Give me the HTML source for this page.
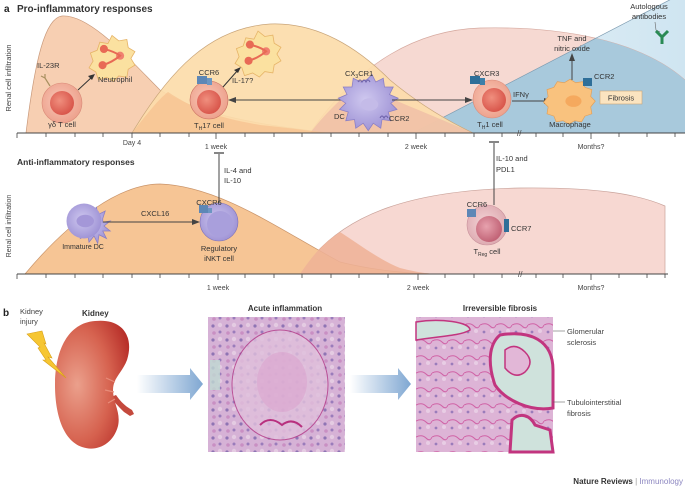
<!DOCTYPE html>
<html><head><meta charset="utf-8"><style>
html,body{margin:0;padding:0;background:#fff;}
svg{display:block;font-family:"Liberation Sans",sans-serif;}
</style></head><body>
<svg width="685" height="490" viewBox="0 0 685 490" xmlns="http://www.w3.org/2000/svg">
<defs>
<radialGradient id="cellR" cx="0.45" cy="0.45" r="0.6"><stop offset="0" stop-color="#f9c8b8"/><stop offset="1" stop-color="#ec9f8a"/></radialGradient>
<radialGradient id="nucR" cx="0.4" cy="0.4" r="0.6"><stop offset="0" stop-color="#f08f7e"/><stop offset="1" stop-color="#d9574c"/></radialGradient>
<radialGradient id="cellP" cx="0.45" cy="0.45" r="0.6"><stop offset="0" stop-color="#cfc8ef"/><stop offset="1" stop-color="#9c90d4"/></radialGradient>
<radialGradient id="cellT" cx="0.45" cy="0.45" r="0.6"><stop offset="0" stop-color="#f3d3d6"/><stop offset="1" stop-color="#dca7ae"/></radialGradient>
<radialGradient id="nucT" cx="0.4" cy="0.4" r="0.6"><stop offset="0" stop-color="#e7a2ae"/><stop offset="1" stop-color="#c26477"/></radialGradient>
<radialGradient id="kid" cx="0.3" cy="0.5" r="0.75"><stop offset="0" stop-color="#eba08c"/><stop offset="0.6" stop-color="#d6624f"/><stop offset="1" stop-color="#b8302a"/></radialGradient>
<linearGradient id="arr" x1="0" x2="1"><stop offset="0" stop-color="#fff"/><stop offset="1" stop-color="#7fa7d2"/></linearGradient>
<linearGradient id="tri" x1="0" x2="1"><stop offset="0" stop-color="#e9f3f9"/><stop offset="1" stop-color="#cfe5f1"/></linearGradient>
<pattern id="h1" width="14" height="14" patternUnits="userSpaceOnUse"><rect width="14" height="14" fill="#d6b2d6"/><circle cx="3" cy="4" r="1.6" fill="#8f74b4"/><circle cx="10" cy="10" r="1.5" fill="#9a7cbb"/><circle cx="10" cy="3" r="2.2" fill="#e4cbe2"/><circle cx="4" cy="11" r="1.8" fill="#c98fc3"/></pattern>
<pattern id="h2" width="16" height="16" patternUnits="userSpaceOnUse"><rect width="16" height="16" fill="#ddb4d6"/><path d="M0 5 Q6 2 10 6 T16 5" stroke="#d062a6" stroke-width="1" fill="none"/><circle cx="4" cy="12" r="1.4" fill="#9a7cbb"/><circle cx="12" cy="11" r="2" fill="#e8cde4"/></pattern>
</defs>

<!-- ===== panel a top ===== -->
<text x="4" y="12" font-size="10" font-weight="bold" fill="#222">a</text>
<text x="17" y="12" font-size="10" font-weight="bold" fill="#333">Pro-inflammatory responses</text>
<text transform="translate(11,78) rotate(-90)" font-size="7.5" fill="#444" text-anchor="middle">Renal cell infiltration</text>

<polygon points="413,133 685,-8 685,133" fill="url(#tri)"/>
<path d="M310,133 C360,60 420,30 480,28 C560,26 640,40 685,80 L685,133 Z" fill="#f6d9d2" stroke="#d6aaa0" stroke-width="0.7"/>
<clipPath id="ctri"><polygon points="413,133 685,-8 685,133"/></clipPath>
<path d="M310,133 C360,60 420,30 480,28 C560,26 640,40 685,80 L685,133 Z" fill="#a8c9dc" clip-path="url(#ctri)"/>
<line x1="413" y1="133" x2="685" y2="-8" stroke="#7d9bb0" stroke-width="0.7"/>
<path d="M26,133 C35,60 45,18 62,16 C90,14 130,60 160,90 C200,115 260,125 330,133 Z" fill="#f7cfb2" stroke="#c99a7c" stroke-width="0.7"/>
<path d="M132,133 C170,70 210,28 270,24 C320,22 360,50 390,80 C420,105 450,122 473,133 Z" fill="#fcdcaa" stroke="#c9a57a" stroke-width="0.7" fill-opacity="0.92"/>
<path d="M310,133 C330,108 345,95 360,84 C380,95 420,110 473,133 Z" fill="#efbea6" opacity="0.8"/>
<path d="M132,133 C150,110 160,98 168,92 C195,110 220,118 260,125 C290,128 310,131 330,133 Z" fill="#f6c08e" opacity="0.7"/>

<line x1="17" y1="133" x2="685" y2="133" stroke="#444" stroke-width="1"/>
<g stroke="#444" stroke-width="0.8">
<line x1="17" y1="133" x2="17" y2="138"/><line x1="46" y1="133" x2="46" y2="137"/><line x1="75" y1="133" x2="75" y2="137"/><line x1="103" y1="133" x2="103" y2="137"/><line x1="132" y1="133" x2="132" y2="138"/><line x1="160" y1="133" x2="160" y2="137"/><line x1="189" y1="133" x2="189" y2="137"/><line x1="216" y1="133" x2="216" y2="139"/><line x1="245" y1="133" x2="245" y2="137"/><line x1="274" y1="133" x2="274" y2="137"/><line x1="302" y1="133" x2="302" y2="137"/><line x1="331" y1="133" x2="331" y2="137"/><line x1="359" y1="133" x2="359" y2="137"/><line x1="388" y1="133" x2="388" y2="137"/><line x1="416" y1="133" x2="416" y2="139"/><line x1="445" y1="133" x2="445" y2="137"/><line x1="474" y1="133" x2="474" y2="137"/><line x1="502" y1="133" x2="502" y2="137"/><line x1="536" y1="133" x2="536" y2="137"/><line x1="563" y1="133" x2="563" y2="137"/><line x1="591" y1="133" x2="591" y2="139"/><line x1="619" y1="133" x2="619" y2="137"/><line x1="647" y1="133" x2="647" y2="137"/><line x1="675" y1="133" x2="675" y2="137"/>
</g>
<text x="517" y="136" font-size="8" fill="#444">//</text>
<g font-size="7" fill="#444" text-anchor="middle">
<text x="132" y="145">Day 4</text><text x="216" y="149">1 week</text><text x="416" y="149">2 week</text><text x="591" y="149">Months?</text></g>

<!-- gamma delta T -->
<circle cx="62" cy="103" r="20" fill="url(#cellR)" stroke="#d98a78" stroke-width="0.6"/>
<circle cx="62" cy="103" r="12" fill="url(#nucR)"/>
<path d="M50 86 L45 78 M45 78 l-4 -2 M45 78 l0 -4" stroke="#a89060" stroke-width="1.2" fill="none"/>
<text x="37" y="68" font-size="7.5" fill="#333">IL-23R</text>
<text x="62" y="127" font-size="7.5" fill="#333" text-anchor="middle">γδ T cell</text>
<line x1="78" y1="90" x2="92" y2="77" stroke="#333" stroke-width="1"/><polygon points="95,74 88,76 92,80" fill="#333"/>
<g transform="translate(112,53) scale(1.35) translate(-112,-53)">
<path d="M112,40 l5,4 6,-1 1,6 5,3 -3,5 3,5 -5,3 -1,6 -6,-1 -4,4 -5,-3 -6,2 -2,-6 -5,-3 3,-5 -2,-6 5,-2 2,-6 6,1 z" fill="#fbe1a0" stroke="#e6b468" stroke-width="0.6"/>
<circle cx="106" cy="50" r="3" fill="#e86a55"/><circle cx="118" cy="55" r="3" fill="#f08070"/><circle cx="105" cy="62" r="3" fill="#e86a55"/>
<path d="M106 50 Q114 52 118 55 Q112 60 105 62" stroke="#e86a55" stroke-width="1.5" fill="none"/>
</g>
<text x="98" y="82" font-size="7.5" fill="#333">Neutrophil</text>

<!-- TH17 -->
<circle cx="209" cy="100" r="19" fill="url(#cellR)" stroke="#c76e5e" stroke-width="0.6"/>
<circle cx="209" cy="102" r="12" fill="url(#nucR)"/>
<rect x="197" y="76" width="10" height="8" fill="#5d87b6"/><rect x="207" y="78" width="5" height="7" fill="#6c96c2"/>
<text x="209" y="75" font-size="7.5" fill="#333" text-anchor="middle">CCR6</text>
<text x="209" y="128" font-size="7.5" fill="#333" text-anchor="middle">T<tspan font-size="5" dy="2">H</tspan><tspan dy="-2">17 cell</tspan></text>
<line x1="223" y1="87" x2="238" y2="70" stroke="#333" stroke-width="1"/><polygon points="241,67 234,70 238,73" fill="#333"/>
<text x="232" y="83" font-size="7.5" fill="#333">IL-17?</text>
<g transform="translate(258,50) scale(1.35) translate(-258,-50)">
<path d="M258,36 l5,4 6,-1 1,6 5,3 -3,5 3,5 -5,3 -1,6 -6,-1 -4,4 -5,-3 -6,2 -2,-6 -5,-3 3,-5 -2,-6 5,-2 2,-6 6,1 z" fill="#fbe1a0" stroke="#e6b468" stroke-width="0.6"/>
<circle cx="252" cy="46" r="3" fill="#e86a55"/><circle cx="264" cy="51" r="3" fill="#f08070"/><circle cx="251" cy="58" r="3" fill="#e86a55"/>
<path d="M252 46 Q260 48 264 51 Q258 56 251 58" stroke="#e86a55" stroke-width="1.5" fill="none"/>
</g>

<line x1="236" y1="100" x2="345" y2="100" stroke="#444" stroke-width="1"/><polygon points="228,100 236,97 236,103" fill="#444"/>
<!-- DC -->
<g transform="translate(367,102) scale(1.25) translate(-367,-102)">
<path d="M367,84 l4,-4 3,6 6,-3 1,7 7,0 -3,6 7,3 -6,4 5,5 -7,2 2,7 -7,-1 -1,7 -6,-4 -4,6 -4,-6 -6,4 -1,-7 -7,1 2,-7 -7,-2 5,-5 -6,-4 7,-3 -3,-6 7,0 1,-7 6,3 z" fill="url(#cellP)" stroke="#8a7ec4" stroke-width="0.6"/>
<ellipse cx="369" cy="104" rx="7" ry="5" fill="#c4bbe8"/>
</g>
<path d="M358 82 q2 -4 4 0 q2 -4 4 0 q2 -4 4 0" stroke="#6c60a8" fill="none"/>
<path d="M380 118 q2 -4 4 0 q2 -4 4 0" stroke="#6c60a8" fill="none"/>
<text x="345" y="76" font-size="7.5" fill="#333">CX<tspan font-size="5" dy="2">3</tspan><tspan dy="-2">CR1</tspan></text>
<text x="334" y="119" font-size="7.5" fill="#333">DC</text>
<text x="389" y="121" font-size="7.5" fill="#333">CCR2</text>
<line x1="392" y1="100" x2="466" y2="100" stroke="#444" stroke-width="1"/><polygon points="473,100 465,97 465,103" fill="#444"/>

<!-- TH1 -->
<circle cx="492" cy="99" r="19" fill="url(#cellR)" stroke="#d98a78" stroke-width="0.6"/>
<circle cx="494" cy="100" r="12" fill="url(#nucR)"/>
<rect x="470" y="76" width="10" height="8" fill="#2f6f99"/><rect x="480" y="78" width="5" height="7" fill="#3c7fa8"/>
<text x="474" y="76" font-size="7.5" fill="#333">CXCR3</text>
<text x="490" y="127" font-size="7.5" fill="#333" text-anchor="middle">T<tspan font-size="5" dy="2">H</tspan><tspan dy="-2">1 cell</tspan></text>
<text x="513" y="97" font-size="7.5" fill="#333">IFNγ</text>
<line x1="512" y1="101" x2="545" y2="101" stroke="#444" stroke-width="1"/><polygon points="552,101 544,98 544,104" fill="#444"/>
<g transform="translate(570,100) scale(1.15) translate(-570,-100)">
<path d="M570,82 l5,3 6,-1 2,5 6,2 -1,6 4,4 -4,5 1,6 -6,2 -3,5 -6,-1 -5,3 -5,-3 -6,1 -2,-5 -6,-2 1,-6 -4,-4 4,-5 -1,-6 6,-2 3,-5 6,1 z" fill="#f9c27e" stroke="#e3a058" stroke-width="0.6"/>
<ellipse cx="573" cy="101" rx="7" ry="5" fill="#f5a95e"/>
</g>
<rect x="583" y="78" width="9" height="8" fill="#2f6f99"/>
<text x="594" y="79" font-size="7.5" fill="#333">CCR2</text>
<text x="570" y="127" font-size="7.5" fill="#333" text-anchor="middle">Macrophage</text>
<line x1="572" y1="80" x2="572" y2="60" stroke="#444" stroke-width="1"/><polygon points="572,53 569,61 575,61" fill="#444"/>
<text x="572" y="41" font-size="7.5" fill="#333" text-anchor="middle">TNF and</text>
<text x="572" y="51" font-size="7.5" fill="#333" text-anchor="middle">nitric oxide</text>
<rect x="600" y="91" width="42" height="13" fill="#fbe4c0" stroke="#c9a678" stroke-width="0.6"/>
<text x="621" y="100.5" font-size="7.5" fill="#333" text-anchor="middle">Fibrosis</text>
<text x="649" y="9" font-size="7.5" fill="#333" text-anchor="middle">Autologous</text>
<text x="649" y="19" font-size="7.5" fill="#333" text-anchor="middle">antibodies</text>
<path d="M655 22 L656 30 L660 32" stroke="#666" stroke-width="0.6" fill="none"/>
<path d="M662 44 L662 37 L656 31 M662 37 L668 31" stroke="#2a8a55" stroke-width="3" fill="none"/>

<!-- ===== panel a bottom ===== -->
<text x="17" y="165" font-size="8.5" font-weight="bold" fill="#333">Anti-inflammatory responses</text>
<text transform="translate(11,226) rotate(-90)" font-size="7" fill="#444" text-anchor="middle">Renal cell infiltration</text>
<path d="M300,274 C340,210 420,190 520,188 C600,187 640,195 665,206 L665,274 Z" fill="#f7d8d2" stroke="#c9a39b" stroke-width="0.7"/>
<path d="M25,274 C70,220 120,184 160,184 C220,186 280,230 340,262 C380,272 420,274 440,274 Z" fill="#f6c595" stroke="#c9946a" stroke-width="0.7"/>
<path d="M300,274 C315,252 325,242 340,232 C360,245 380,260 400,268 C420,273 430,274 440,274 Z" fill="#eeb196" opacity="0.85"/>
<line x1="17" y1="274" x2="668" y2="274" stroke="#444" stroke-width="1"/>
<g stroke="#444" stroke-width="0.8">
<line x1="17" y1="274" x2="17" y2="279"/><line x1="46" y1="274" x2="46" y2="278"/><line x1="75" y1="274" x2="75" y2="278"/><line x1="103" y1="274" x2="103" y2="278"/><line x1="132" y1="274" x2="132" y2="278"/><line x1="160" y1="274" x2="160" y2="278"/><line x1="189" y1="274" x2="189" y2="278"/><line x1="218" y1="274" x2="218" y2="280"/><line x1="245" y1="274" x2="245" y2="278"/><line x1="274" y1="274" x2="274" y2="278"/><line x1="302" y1="274" x2="302" y2="278"/><line x1="331" y1="274" x2="331" y2="278"/><line x1="359" y1="274" x2="359" y2="278"/><line x1="388" y1="274" x2="388" y2="278"/><line x1="418" y1="274" x2="418" y2="280"/><line x1="445" y1="274" x2="445" y2="278"/><line x1="474" y1="274" x2="474" y2="278"/><line x1="502" y1="274" x2="502" y2="278"/><line x1="536" y1="274" x2="536" y2="278"/><line x1="563" y1="274" x2="563" y2="278"/><line x1="591" y1="274" x2="591" y2="280"/><line x1="619" y1="274" x2="619" y2="278"/><line x1="647" y1="274" x2="647" y2="278"/><line x1="665" y1="274" x2="665" y2="278"/>
</g>
<text x="518" y="277" font-size="8" fill="#444">//</text>
<g font-size="7" fill="#444" text-anchor="middle"><text x="218" y="290">1 week</text><text x="418" y="290">2 week</text><text x="591" y="290">Months?</text></g>

<!-- immature DC -->
<g transform="translate(84,221) scale(1.25) translate(-84,-221)">
<path d="M99,222 l6,-1 -5,4 5,4 -6,0 3,6 -6,-3 -1,7 -3,-6 -4,5 -1,-6 -6,3 2,-6 -6,-1 5,-4 -5,-4 6,-1 -3,-6 6,3 1,-7 3,6 4,-5 1,6 6,-3 -2,6 z" fill="url(#cellP)" stroke="#8a7ec4" stroke-width="0.6"/>
<ellipse cx="84" cy="221" rx="14" ry="14" fill="url(#cellP)"/>
<ellipse cx="85" cy="221" rx="7" ry="5" fill="#a497d8"/>
</g>
<text x="83" y="249" font-size="7" fill="#333" text-anchor="middle">Immature DC</text>
<line x1="103" y1="222" x2="193" y2="222" stroke="#444" stroke-width="1"/><polygon points="200,222 192,219 192,225" fill="#444"/>
<text x="141" y="216" font-size="7.5" fill="#333">CXCL16</text>
<circle cx="219" cy="222" r="19" fill="url(#cellP)" stroke="#7d71b8" stroke-width="0.6"/>
<circle cx="220" cy="224" r="13" fill="#a99fdc"/>
<rect x="199" y="205" width="9" height="8" fill="#5d87b6"/><rect x="208" y="208" width="4" height="5" fill="#6c96c2"/>
<text x="209" y="205" font-size="7.5" fill="#333" text-anchor="middle">CXCR6</text>
<text x="219" y="251" font-size="7.5" fill="#333" text-anchor="middle">Regulatory</text>
<text x="219" y="261" font-size="7.5" fill="#333" text-anchor="middle">iNKT cell</text>
<line x1="219" y1="203" x2="219" y2="154" stroke="#444" stroke-width="1"/><line x1="214" y1="153" x2="224" y2="153" stroke="#444" stroke-width="1.3"/>
<text x="224" y="173" font-size="7.5" fill="#333">IL-4 and</text>
<text x="224" y="183" font-size="7.5" fill="#333">IL-10</text>
<circle cx="487" cy="225" r="20" fill="url(#cellT)" stroke="#c9939c" stroke-width="0.6"/>
<circle cx="489" cy="229" r="13" fill="url(#nucT)"/>
<rect x="467" y="209" width="9" height="8" fill="#5d87b6"/>
<rect x="504" y="219" width="5" height="13" fill="#2f6f99"/>
<text x="477" y="207" font-size="7.5" fill="#333" text-anchor="middle">CCR6</text>
<text x="511" y="231" font-size="7.5" fill="#333">CCR7</text>
<text x="487" y="254" font-size="7.5" fill="#333" text-anchor="middle">T<tspan font-size="5" dy="2">Reg</tspan><tspan dy="-2"> cell</tspan></text>
<line x1="494" y1="205" x2="494" y2="143" stroke="#444" stroke-width="1"/><line x1="489" y1="142" x2="499" y2="142" stroke="#444" stroke-width="1.3"/>
<text x="496" y="161" font-size="7.5" fill="#333">IL-10 and</text>
<text x="496" y="172" font-size="7.5" fill="#333">PDL1</text>

<!-- ===== panel b ===== -->
<text x="3" y="316" font-size="10" font-weight="bold" fill="#222">b</text>
<text x="20" y="314" font-size="7.5" fill="#444">Kidney</text>
<text x="20" y="324" font-size="7.5" fill="#444">injury</text>
<text x="82" y="316" font-size="8" font-weight="bold" fill="#333">Kidney</text>
<path d="M116,395 C121,402 125,406 132,410 L134,414 L130,416 L124,412 C118,406 114,402 111,397 Z" fill="#c4493d"/>
<path d="M95,321 C124,318 134,338 127,360 C122,373 113,378 113,390 C113,403 121,412 118,426 C113,445 96,452 82,447 C62,440 55,412 55,385 C55,352 67,323 95,321 Z" fill="url(#kid)"/>
<path d="M106,378 l9,4 M105,390 l9,2 M108,403 l7,-4" stroke="#e78c7a" stroke-width="1.2"/>
<polygon points="27,334 42,331 46,344 44,343 52,358 48,357 66,378 43,360 46,360 38,348 40,347" fill="#f6c632" stroke="#d9a11a" stroke-width="0.6"/>
<polygon points="137,375 190,375 190,368 203,384 190,400 190,393 137,393" fill="url(#arr)"/>
<polygon points="350,375 398,375 398,368 411,384 398,400 398,393 350,393" fill="url(#arr)"/>
<text x="285" y="311" font-size="8" font-weight="bold" fill="#333" text-anchor="middle">Acute inflammation</text>
<rect x="208" y="317" width="137" height="135" fill="url(#h1)"/>
<ellipse cx="280" cy="385" rx="48" ry="55" fill="#e0c0dc" stroke="#b43a88" stroke-width="1" opacity="0.8"/>
<ellipse cx="282" cy="382" rx="25" ry="30" fill="#dba8d0" opacity="0.7"/>
<path d="M260 425 q10 -10 22 0 q10 -8 20 2" stroke="#b8307e" stroke-width="2" fill="none"/>
<rect x="210" y="360" width="10" height="30" fill="#bfd9d2" opacity="0.8"/>
<text x="500" y="311" font-size="8" font-weight="bold" fill="#333" text-anchor="middle">Irreversible fibrosis</text>
<rect x="416" y="317" width="137" height="135" fill="url(#h2)"/>
<path d="M500,335 C530,330 553,340 553,370 L553,408 C530,412 505,400 495,385 C488,365 488,345 500,335 Z" fill="#cfe2dc" stroke="#c2357f" stroke-width="3"/>
<path d="M505,350 q10 -8 20 2 q10 10 0 20 q-10 8 -20 -4 z" fill="#e2b7d7" stroke="#c2357f" stroke-width="1.5"/>
<path d="M416,322 C440,318 470,322 470,330 C460,336 440,336 416,340 Z" fill="#cfe2dc" stroke="#c2357f" stroke-width="1.5"/>
<path d="M510,452 L512,420 C520,412 530,415 535,425 L550,430 L553,452 Z" fill="#cfe2dc" stroke="#c2357f" stroke-width="3"/>
<line x1="553" y1="331" x2="565" y2="331" stroke="#666" stroke-width="0.6"/>
<line x1="553" y1="402" x2="565" y2="402" stroke="#666" stroke-width="0.6"/>
<text x="567" y="334" font-size="7.5" fill="#444">Glomerular</text>
<text x="567" y="345" font-size="7.5" fill="#444">sclerosis</text>
<text x="567" y="405" font-size="7.5" fill="#444">Tubulointerstitial</text>
<text x="567" y="416" font-size="7.5" fill="#444">fibrosis</text>
<text x="683" y="484" font-size="8" font-weight="bold" fill="#333" text-anchor="end">Nature Reviews <tspan fill="#999" font-weight="normal">|</tspan> <tspan fill="#8c86c0" font-weight="normal">Immunology</tspan></text>
</svg>
</body></html>
